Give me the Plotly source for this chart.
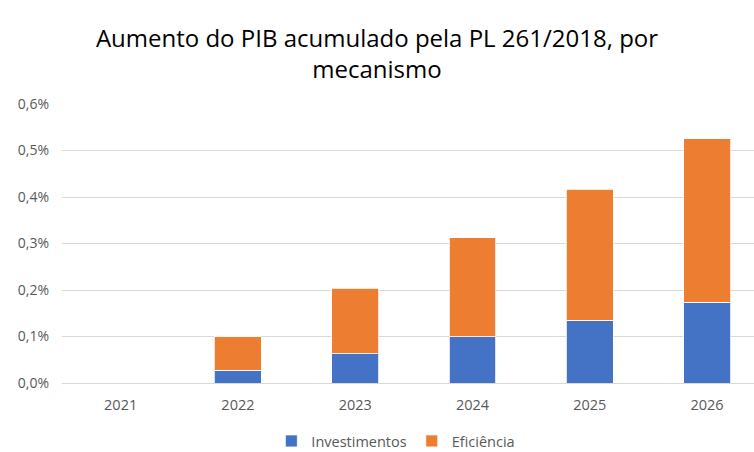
import plotly.graph_objects as go

anos = ["2021", "2022", "2023", "2024", "2025", "2026"]
investimentos = [0.0, 0.027, 0.063, 0.099, 0.135, 0.174]
eficiencia = [0.0, 0.072, 0.141, 0.213, 0.282, 0.351]
y_ticks = [0.0, 0.1, 0.2, 0.3, 0.4, 0.5, 0.6]
y_labels = ["0,0%", "0,1%", "0,2%", "0,3%", "0,4%", "0,5%", "0,6%"]

FONT = "Open Sans"
GREY = "#595959"

fig = go.Figure()
fig.add_trace(go.Bar(x=anos, y=investimentos, name="Investimentos",
                     marker=dict(color="#4472C4", line=dict(color="white", width=0.8))))
fig.add_trace(go.Bar(x=anos, y=eficiencia, name="Eficiência",
                     marker=dict(color="#ED7D31", line=dict(color="white", width=0.8))))

fig.update_layout(
    barmode="stack",
    bargap=0.6,
    width=754, height=452,
    margin=dict(l=62, r=0, t=104, b=69),
    paper_bgcolor="white", plot_bgcolor="white",
    font=dict(family=FONT, color=GREY, size=14),
    title=dict(text="Aumento do PIB acumulado pela PL 261/2018, por<br>mecanismo",
               x=0.5, xanchor="center", xref="container",
               y=1 - 47 / 452, yanchor="middle", yref="container",
               font=dict(family=FONT, size=24, color="#000000")),
    showlegend=True,
    legend=dict(orientation="h", x=0.525, xanchor="center", xref="container",
                y=1 - 441 / 452, yanchor="middle", yref="container",
                font=dict(size=14.5, color=GREY), traceorder="normal",
                itemwidth=30),
    xaxis=dict(range=[-0.5, 5.4], showgrid=False, showline=True, linecolor="#d9d9d9",
               linewidth=1, ticks="", tickfont=dict(size=14.5, color=GREY),
               ticklabelstandoff=9, fixedrange=True),
    yaxis=dict(range=[0, 0.6], tickmode="array", tickvals=y_ticks, ticktext=y_labels,
               showgrid=True, gridcolor="#d9d9d9", gridwidth=1, zeroline=False,
               tickfont=dict(size=14, color=GREY), ticklabelstandoff=12, fixedrange=True),
)

fig.write_html("out.html", config={"displayModeBar": False},
               post_script="document.body.style.margin='0';")
